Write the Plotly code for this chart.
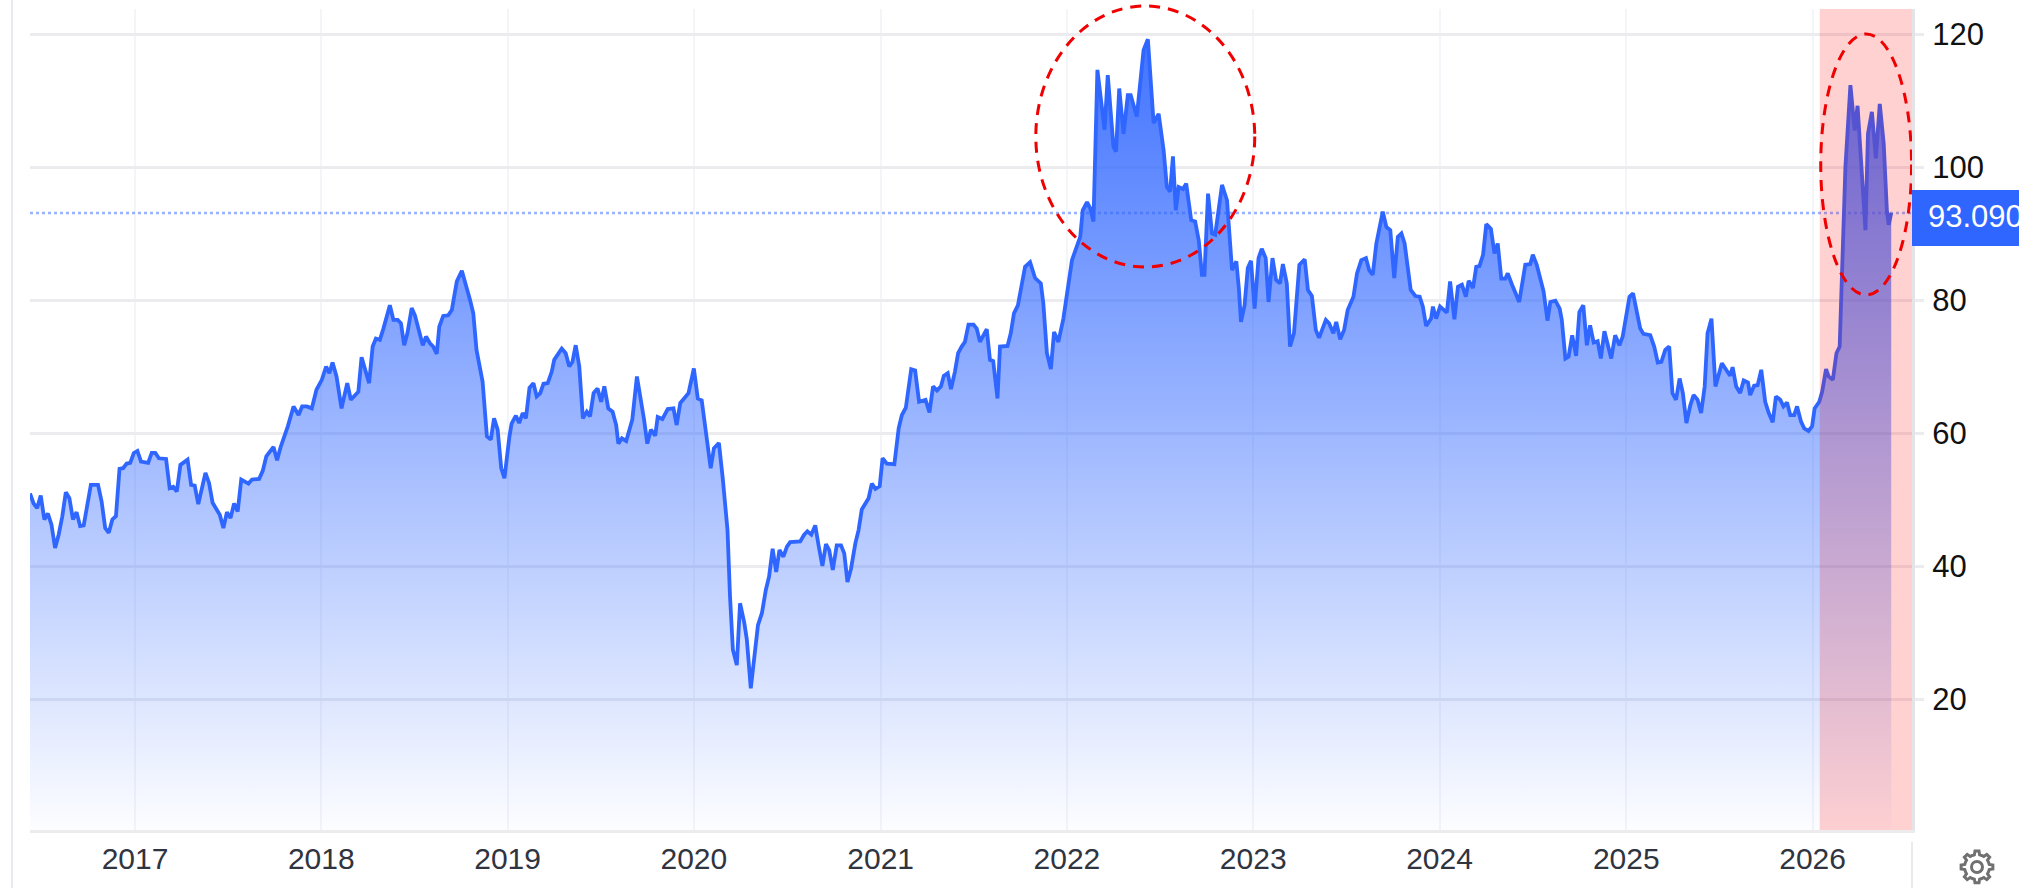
import math
import pandas as pd
import plotly.graph_objects as go

START = pd.Timestamp("2016-06-09 05:00")
STEP_DAYS = 7.016
END_STEP = 525.6

w_2016 = [0,1,2,3,4,5,6,7,8,9,10,11,12,13,14,15,17,19,20,21,22,23,24,25,26,27,28,29]
v_2016 = [50.9,49.4,48.7,50.6,47,47.9,46.2,42.7,44.7,47.4,51.1,50.2,47,48.1,46,46.1,52.2,52.2,49.7,45.7,45,47,47.5,54.6,54.7,55.4,55.5,57]

w_2017 = [30,31,33,34,35,36,38,39,40,41,42,44,45,46,47,49,50,51,53,54,55,56,57,58,59,61,62,64,65,66,68,69,70,72,73.6,75,76,77.3,78.7,80,81.5]
v_2017 = [57.3,55.7,55.5,57,57,56.2,56.1,51.7,51.9,51.2,55.2,56,52.2,52.1,49.3,54,52.5,49.5,47.7,45.7,48.1,47.2,49.4,48.2,53,52.4,53,53.1,54.3,56.5,57.9,55.9,57.9,61,64,62.7,64,64,63.7,66.5,68]

w_2018 = [82.7,83.6,84.5,85.6,87,88.6,89.6,91.7,92.6,94.7,95.7,96.6,97.7,98.7,100.5,101.5,102.7,103.6,104.5,105.4,106.6,107.5,108.7,109.7,110.6,111.7,112.6,113.6,114.3,115.4,116.8,117.8,119.2,120.6,122.9,123.8,124.7,126.4,127.6,128.7,129.6,130.6,131.6,132.5]
v_2018 = [70,69,70.6,68.5,63.7,67.5,65,66.2,71.4,67.5,73,74.2,74,75.7,79.2,77,77,76.5,73.2,75,78.8,77.7,75.2,73.2,74.5,73.5,73,71.9,76,77.6,77.7,78.5,82.8,84.4,80,78,72.5,67.7,59.5,59,62.2,60.5,54.7,53.2]

w_2019 = [133.9,134.5,135.7,136.6,137.6,138.5,139.5,140.6,141.5,142.5,143.4,144.6,145.7,146.4,148.5,149.6,150.6,151.5,152.4,153.4,154.4,155.5,156.4,157.4,158.5,159.5,160.4,161.5,162.7,163.7,164.3,165.3,166.5,168.2,169.5,170.6,171.5,172.4,173.4,174.6,175.3,176.6,178.1,179.7,180.6,181.6,183,183.9]
v_2019 = [59.5,61.4,62.6,61.5,63,62.2,66.8,67.5,65.5,66,67.4,67.5,69.2,71,72.7,72,70,70.7,73.2,70,62.2,63.2,62.5,66,66.7,64.7,67,63.7,63.2,61.2,58.4,59.2,58.8,62,68.5,65,62,58.4,60.5,59.6,62.4,62.1,63.6,63.7,61.2,64.5,65.3,66]

w_2020 = [185.4,186.5,187.6,188.8,190.1,191,192.4,193.5,194.8,195.5,196.3,197.4,198.3,199.5,200.2,201.3,202.3,203.3,204.4,205.5,206.4,207.4,208.4,209.3,210.4,211.4,212.3,215.1,216.2,217.1,218.2,219.3,220.2,221.3,222.3,223.2,224.2,225.3,226.5,227.4,228.3,229.3,230.5,231.4,232.3,233.3,234.2,235.1,236.1,237.3]
v_2020 = [69.7,65.2,64.9,60,54.7,57.7,58.5,53,45.4,35.4,27.4,25.1,34.4,31.4,28.9,21.6,25.9,31.1,32.9,36.4,38.4,42.6,39.1,42.4,41.4,42.9,43.6,43.7,44.7,45.2,44.7,46.1,43.2,40,43.3,42.4,39.4,43.1,43.1,41.9,37.6,39.6,43.4,45.4,48.5,49.4,50.2,52.4,51.6,52]

w_2021 = [238.1,239.3,241.4,242.6,243.5,244.6,246.1,247.2,248.3,250.1,251.2,252.2,253.3,254.4,255.2,256.3,257.2,258.3,259.2,260.2,261.1,262.1,263.5,264.4,265.3,267.2,268.1,269,270.2,270.9,273,273.9,274.8,275.9,277,277.9,279.3,280.7,282.3,283,284,285.1,286,287.2,288.6]
v_2021 = [56.2,55.4,55.3,60.7,62.7,63.8,69.6,69.4,64.7,65,63.1,67,66.4,67,68.6,69,66.6,69.2,72,73,73.7,76.3,76.3,75.7,73.7,75.6,71,70.8,65.2,73,73.1,75,78,79.2,82.5,85,85.7,83.3,82.5,79.5,72,69.6,75.2,73.7,77.2]

w_2022 = [289.7,291,293.3,294,295.2,296.1,297,298.1,300.1,301,302.6,303.3,304.2,305.4,306.6,307.4,309.1,311,312.2,313.8,315.2,316.6,317.5,318.4,319.2,320,320.8,322,322.9,324.3,325.4,326.4,327.3,328,329,330.1,331,332.9,334.3,335.7,336.9,337.6,338.2,339.2]
v_2022 = [81,86,89.5,93.5,94.7,93.8,91.8,114.6,105.6,113.8,103,102.3,111.8,105,110.8,110.8,107.6,117.6,119.2,106.6,108,102.5,97,96.3,101.6,93.5,97,96.7,97.5,92,91.8,89,83.8,83.8,96,90,89.8,97.3,95,84.5,85.8,81.8,76.7,79.2]

w_2023 = [340.1,341,342,343.1,344,345.1,345.9,347,348,349.1,349.9,351,351.9,353,354.5,356,356.9,358,359.1,360,361.9,362.8,364,364.8,365.9,367,368,369.6,370.6,371.8,373.1,374,375,376,377.8,378.8,379.9,381,382,383,383.9,385.6,386.9,388.1,389,389.9,391.3]
v_2023 = [84.8,85.9,78.7,86.3,87.7,86.3,79.7,86.3,83,82.5,85.4,82.5,73,75,85.3,86.1,81.5,80.6,75.5,74.3,77,76.5,75,76.7,74.1,75.5,78.5,80.5,84,86,86.3,84.5,83.8,88.5,93.3,91,90.5,83.3,89.5,90,88.5,81.5,80.6,80.5,79,76.1,77.2]

w_2024 = [391.8,392.7,393.8,395.7,396.6,397.8,398.8,399.9,401,401.8,403,403.9,404.8,405.8,406.7,408,409,409.9,410.9,412,412.7,413.9,415.9,417.6,419,419.7,420.8,422.7,423.8,424.6,426,427.2,427.8,428.8,429.7,430.7,431.8,432.7,433.8,434.8,435.7,436.7,437.8,438.7,439.7,440.9,441.6]
v_2024 = [79,77.2,79,78.1,82.8,77.1,82,82.3,80.5,82.9,81.8,85,85.1,86.8,91.4,90.7,87,88.5,83.2,83.2,84,82.3,79.7,85.3,85.4,86.8,85.3,81.3,76.9,79.7,79.9,78.7,77,71.2,71.5,74.7,71.6,78.2,79.2,73.2,76.2,73.6,73.8,71.2,75.3,72.7,71.2]

w_2025 = [442.7,443.9,444.8,445.8,446.7,447.7,448.6,449.7,450.6,452.5,453.6,454.6,455.6,456.7,457.8,458.7,459.7,460.7,461.6,462.6,463.7,464.6,465.7,466.7,467.7,468.5,469.6,470.7,472.5,473.4,474.8,475.5,476.5,477.6,478.6,479.8,480.4,481.5,482.5,483.5,484.6,485.6,486.7,487.6,488.8,489.7,490.7,491.6,492.7,493.5,494.6,495.5,496.7,497.7,498.4]
v_2025 = [74.7,73.2,74.5,77.5,80.5,81,78.5,75.7,74.9,74.7,73,70.6,70.7,72.5,73,66,65,68.2,66,61.5,64.2,65.7,65,63,67,75,77.2,67,70.5,69.7,68.6,69.9,67,66,67.9,67.6,65.7,67.1,67.2,69.5,64.7,63,61.6,65.5,65,64,64.6,62.7,62.7,64,61.7,60.7,60.3,61,63.7]

w_2026 = [499.7,500.5,501.6,502.3,503.5,504.5,505.4,505.8,507,508.4,509.6,510.4,511.5,512.6,513.3,514.4,515.5,516.6,517.7,518.6,519.1,519.8]
v_2026 = [64.7,66.2,69.6,68.5,68,72,73,81,100,112.3,105.5,109.2,100,90.5,105,108.3,101.3,109.5,103.5,93.3,91.3,93.1]

week_steps = w_2016 + w_2017 + w_2018 + w_2019 + w_2020 + w_2021 + w_2022 + w_2023 + w_2024 + w_2025 + w_2026
prices = v_2016 + v_2017 + v_2018 + v_2019 + v_2020 + v_2021 + v_2022 + v_2023 + v_2024 + v_2025 + v_2026

year_ticks = [f"{y}-01-01" for y in range(2017, 2027)]
year_labels = [str(y) for y in range(2017, 2027)]
price_ticks = [20, 40, 60, 80, 100, 120]
LAST_PRICE = 93.09
LAST_LABEL = "93.090"

dates = [START + pd.Timedelta(days=w * STEP_DAYS) for w in week_steps]
x_end = START + pd.Timedelta(days=END_STEP * STEP_DAYS)

W, H = 2019, 888
L, R, T, B = 30, 1912, 9, 830
Y_LOW, Y_HIGH = 0.3, 123.76
BLUE = "#2f66ff"
GRID_H = "#ececef"
GRID_V = "#f3f5f9"


def px(x):
    return (x - L) / (R - L)


def py(y):
    return (B - y) / (B - T)


fig = go.Figure()

fig.add_trace(go.Scatter(
    x=dates, y=prices, mode="lines",
    line=dict(color=BLUE, width=3.8, shape="linear"),
    fill="tozeroy",
    fillgradient=dict(
        type="vertical", start=0, stop=120,
        colorscale=[[0, "rgba(47,102,255,0.01)"], [1, "rgba(47,102,255,0.92)"]],
    ),
    hoverinfo="skip", showlegend=False,
))

shapes = [
    # last-value dotted line
    dict(type="line", xref="paper", yref="y", x0=0, x1=1, y0=LAST_PRICE, y1=LAST_PRICE,
         line=dict(color="rgba(47,102,255,0.5)", width=2.5, dash="dot"), layer="above"),
    # pink highlight band
    dict(type="rect", xref="x", yref="paper", x0="2026-01-15", x1=x_end, y0=0, y1=1,
         fillcolor="rgba(255,0,0,0.18)", line_width=0, layer="above"),
    # red dashed ellipses
    dict(type="circle", xref="x", yref="paper", x0="2021-11-01", x1="2023-01-04",
         y0=py(267), y1=py(6), line=dict(color="#f00000", width=3, dash="11px,8px"),
         layer="above"),
    dict(type="circle", xref="x", yref="paper", x0="2026-01-17", x1="2026-07-14",
         y0=py(295), y1=py(34), line=dict(color="#f00000", width=3, dash="11px,8px"),
         layer="above"),
    # last-value tag
    dict(type="rect", xref="paper", yref="paper", x0=1, x1=px(2030),
         y0=py(246), y1=py(190), fillcolor=BLUE, line_width=0, layer="above"),
    # frame bits
    dict(type="line", xref="paper", yref="paper", x0=px(12), x1=px(12), y0=py(888), y1=py(0),
         line=dict(color="#e7e8f0", width=2), layer="below"),
    dict(type="line", xref="paper", yref="paper", x0=1, x1=1, y0=py(888), y1=py(842),
         line=dict(color="#e3e3e6", width=1.5), layer="below"),
]

# settings gear icon outline
cx, cy, ro, ri = 1977, 867, 16, 12.5
teeth = 8
path = []
for i in range(teeth):
    a = 2 * math.pi * i / teeth - math.pi / 2
    d = 2 * math.pi / teeth
    corners = [(ri, a - d * 0.5), (ri, a - d * 0.27), (ro, a - d * 0.16), (ro, a + d * 0.16), (ri, a + d * 0.27)]
    for r_, ang in corners:
        x_ = cx + r_ * math.cos(ang)
        y_ = cy + r_ * math.sin(ang)
        path.append(f"{'M' if not path else 'L'}{px(x_):.5f},{py(y_):.5f}")
path.append("Z")
shapes.append(dict(type="path", xref="paper", yref="paper", path=" ".join(path),
                   line=dict(color="#707070", width=3), fillcolor="rgba(0,0,0,0)"))
shapes.append(dict(type="circle", xref="paper", yref="paper",
                   x0=px(cx - 5.5), x1=px(cx + 5.5), y0=py(cy + 5.5), y1=py(cy - 5.5),
                   line=dict(color="#707070", width=3)))

fig.update_layout(
    width=W, height=H,
    margin=dict(l=L, r=W - R, t=T, b=H - B, pad=0),
    paper_bgcolor="white", plot_bgcolor="white",
    font=dict(family="Liberation Sans, Arial, sans-serif", size=30, color="#222"),
    shapes=shapes,
    xaxis=dict(
        type="date", range=[START, x_end],
        tickmode="array", tickvals=year_ticks, ticktext=year_labels,
        showgrid=True, gridcolor=GRID_V, gridwidth=2,
        showline=True, linecolor=GRID_H, linewidth=3,
        ticks="", 
        tickfont=dict(size=30, color="#30343f"), zeroline=False,
    ),
    yaxis=dict(
        side="right", range=[Y_LOW, Y_HIGH],
        tickmode="array", tickvals=price_ticks,
        showgrid=True, gridcolor=GRID_H, gridwidth=2.5,
        showline=True, linecolor="#e4e4e8", linewidth=3,
        ticks="outside", ticklen=9, tickcolor=GRID_H, tickwidth=2.5,
        ticklabelstandoff=2,
        tickfont=dict(size=31, color="#111111"), zeroline=False,
    ),
    annotations=[dict(
        xref="paper", yref="paper", x=px(1926), y=py(217), xanchor="left", yanchor="middle",
        text=LAST_LABEL, showarrow=False, font=dict(size=31, color="white"), align="left",
    )],
)

fig.write_html("out.html", config=dict(displayModeBar=False, responsive=False),
               post_script="document.body.style.margin='0';document.body.style.overflow='hidden';")
